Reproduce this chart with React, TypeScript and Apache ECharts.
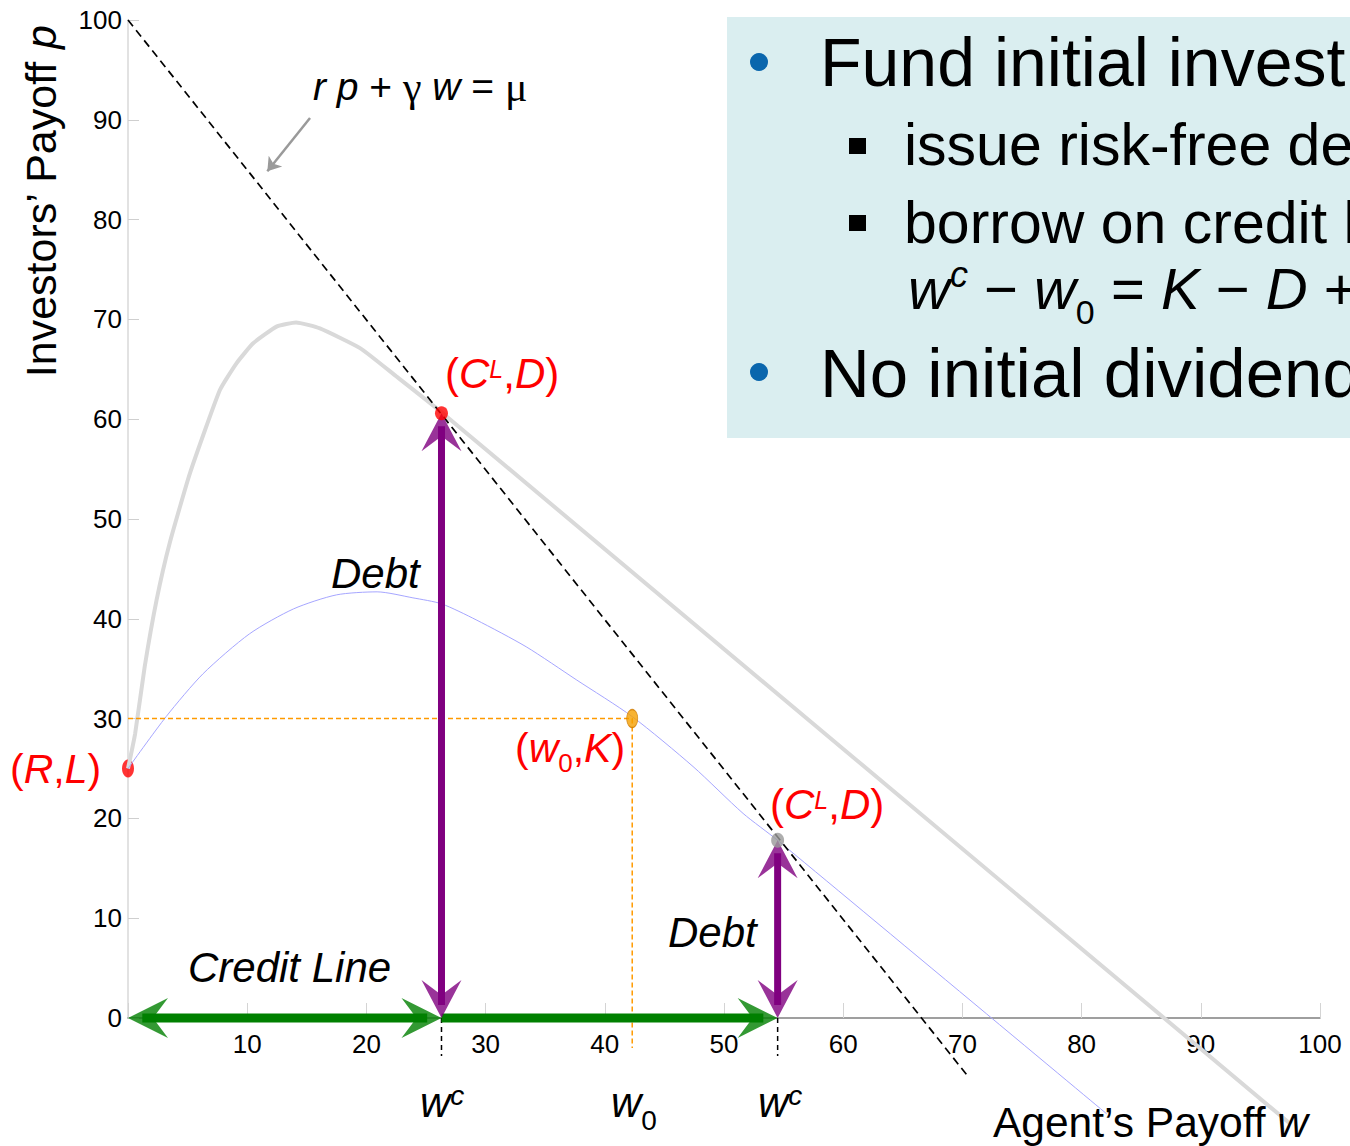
import React, { useEffect, useRef } from "react";
import * as echarts from "echarts";

const FONT = "'Liberation Sans', Arial, Helvetica, sans-serif";
const SERIF = "'Liberation Serif', 'Times New Roman', serif";

// ---------- axes ----------
const X_MIN = 0;
const X_MAX = 100;
const Y_MIN = 0;
const Y_MAX = 100;
const TICK_STEP = 10;

// ---------- key points ----------
const R = 0;
const L = 25;
const wc1 = 26.3;
const D1 = 60.6;
const wc2 = 54.5;
const D2 = 17.8;
const w0 = 42.3;
const K = 30;

// ---------- iso line r p + γ w = μ ----------
const isoW = [0, 70.5];
const isoP = [100, -5.9];

// ---------- gray frontier ----------
const grayW = [0, 0.6, 1.4, 2.4, 3.5, 5.2, 7.7, 9.1, 10.5, 12.5, 14.1, 16.1, 19.5, 22.5, 26.3, 97.5];
const grayP = [25, 28.5, 35.2, 41.9, 47.6, 54.6, 62.9, 65.6, 67.6, 69.3, 69.7, 69.1, 67.1, 64.3, 60.7, -10.6];

// ---------- blue debt curve ----------
const blueW = [0, 3.2, 6.3, 10.2, 13.9, 17.5, 20.9, 23.9, 26.3, 29.2, 33.4, 37.6, 42.3, 47.4, 51.6, 54.5, 82.1];
const blueP = [25, 30.2, 34.5, 38.5, 41.0, 42.4, 42.7, 42.1, 41.5, 39.9, 37.2, 33.9, 30.2, 25.2, 20.5, 17.8, -9.6];

// ---------- guides ----------
const guideBottom = -3;
const wcTickBottom = -3.8;
const pointerFrom = [15.27, 90.18];
const pointerTo = [11.69, 84.84];

// ---------- text box lines (as visible in the slide crop) ----------
const boxLine1 = "Fund initial invest";
const boxLine2 = "issue risk-free de";
const boxLine3 = "borrow on credit l";
const boxLine5 = "No initial dividend";

const GREEN = "#008000";
const PURPLE = "#800080";
const RED = "#ff0000";
const ORANGE = "#ff9a00";

const zip = (a: number[], b: number[]) => a.map((v, i) => [v, b[i]]);

// arrows
const arrows = [
  { from: [0, 0], to: [wc1, 0], startHead: true, endHead: true, color: GREEN, width: 9 },
  { from: [wc1, 0], to: [wc2, 0], startHead: false, endHead: true, color: GREEN, width: 9 },
  { from: [wc1, 0], to: [wc1, D1], startHead: true, endHead: true, color: PURPLE, width: 7 },
  { from: [wc2, 0], to: [wc2, D2], startHead: true, endHead: true, color: PURPLE, width: 7 },
];
const INSET_X = 1.2;
const INSET_Y = 1.3;

const HEAD: Record<string, { symbol: string; size: number[]; offset: number[] }> = {
  up: { symbol: "path://M20,0L40,38L20,23L0,38Z", size: [40, 38], offset: [0, 19] },
  down: { symbol: "path://M0,0L20,15L40,0L20,38Z", size: [40, 38], offset: [0, -19] },
  right: { symbol: "path://M0,0L40,20L0,40L15,20Z", size: [40, 40], offset: [-20, 0] },
  left: { symbol: "path://M40,0L0,20L40,40L25,20Z", size: [40, 40], offset: [20, 0] },
};

function dirName(dx: number, dy: number) {
  if (dx > 0) return "right";
  if (dx < 0) return "left";
  if (dy > 0) return "up";
  return "down";
}

function buildArrowSeries() {
  const shafts: any[] = [];
  const heads: any[] = [];
  arrows.forEach((a) => {
    const dx = Math.sign(a.to[0] - a.from[0]);
    const dy = Math.sign(a.to[1] - a.from[1]);
    const ix = dx * INSET_X;
    const iy = dy * INSET_Y;
    const s = a.startHead ? [a.from[0] + ix, a.from[1] + iy] : a.from;
    const e = a.endHead ? [a.to[0] - ix, a.to[1] - iy] : a.to;
    shafts.push({
      type: "line",
      data: [s, e],
      symbol: "none",
      clip: false,
      z: 5,
      lineStyle: { color: a.color, width: a.width, cap: "butt" },
      silent: true,
    });
    if (a.endHead) {
      const h = HEAD[dirName(dx, dy)];
      heads.push({ value: a.to, symbol: h.symbol, symbolSize: h.size, symbolOffset: h.offset, itemStyle: { color: a.color } });
    }
    if (a.startHead) {
      const h = HEAD[dirName(-dx, -dy)];
      heads.push({ value: a.from, symbol: h.symbol, symbolSize: h.size, symbolOffset: h.offset, itemStyle: { color: a.color } });
    }
  });
  return { shafts, heads };
}

function txt(x: number, y: number, style: any, extra: any = {}) {
  return {
    type: "text",
    x,
    y,
    z: 100,
    silent: true,
    style: { fontFamily: FONT, fill: "#000", align: "left", verticalAlign: "middle", ...style },
    ...extra,
  };
}

function itl(size: number, color: string, lh?: number) {
  return { fontSize: size, fontFamily: FONT, fontStyle: "italic", fill: color, lineHeight: lh };
}

function clLabel(x: number, y: number) {
  return txt(x, y, {
    text: "({i|C}{sup|L},{i|D})",
    fontSize: 42,
    fill: RED,
    lineHeight: 34,
    rich: {
      i: itl(42, RED, 34),
      sup: { fontSize: 25, fontFamily: FONT, fontStyle: "italic", fill: RED, verticalAlign: "top", lineHeight: 25 },
    },
  });
}

function wcLabel(x: number, y: number) {
  return txt(x, y, {
    text: "{i|w}{sup|c}",
    fontSize: 42,
    lineHeight: 42,
    rich: {
      i: itl(42, "#000", 42),
      sup: { fontSize: 28, fontFamily: FONT, fontStyle: "italic", fill: "#000", verticalAlign: "top", lineHeight: 28 },
    },
  });
}

export default function App() {
  const ref = useRef<HTMLDivElement>(null);

  useEffect(() => {
    const chart = echarts.init(ref.current!, null, { renderer: "svg" });
    const { shafts, heads } = buildArrowSeries();

    const graphic: any[] = [
      // text box
      { type: "rect", z: 50, silent: true, shape: { x: 727, y: 17, width: 640, height: 421 }, style: { fill: "#daeef0" } },
      { type: "circle", z: 60, silent: true, shape: { cx: 759, cy: 62, r: 9 }, style: { fill: "#0a66ad" } },
      { type: "circle", z: 60, silent: true, shape: { cx: 759, cy: 372, r: 9 }, style: { fill: "#0a66ad" } },
      { type: "rect", z: 60, silent: true, shape: { x: 849, y: 138, width: 17, height: 16 }, style: { fill: "#000" } },
      { type: "rect", z: 60, silent: true, shape: { x: 849, y: 215, width: 17, height: 16 }, style: { fill: "#000" } },
      txt(820, 62, { text: boxLine1, fontSize: 68 }),
      txt(904, 145, { text: boxLine2, fontSize: 59 }),
      txt(904, 222.5, { text: boxLine3, fontSize: 59 }),
      txt(908, 288.5, {
        text: "{i|w}{sup|c} \u2212 {i|w}{sub|0} = {i|K} \u2212 {i|D} +",
        fontSize: 58,
        lineHeight: 64,
        rich: {
          i: itl(58, "#000", 64),
          sup: { fontSize: 36, fontFamily: FONT, fontStyle: "italic", fill: "#000", verticalAlign: "top", lineHeight: 36 },
          sub: { fontSize: 34, fontFamily: FONT, fill: "#000", verticalAlign: "bottom", lineHeight: 34, padding: [0, 0, -8, 0] },
        },
      }),
      txt(820, 373, { text: boxLine5, fontSize: 69 }),

      // equation annotation
      txt(313, 86.5, {
        text: "{i|r p} + {g|\u03b3} {i|w} = {g|\u03bc}",
        fontSize: 39,
        lineHeight: 39,
        rich: {
          i: itl(39, "#000", 39),
          g: { fontSize: 42, fontFamily: SERIF, fill: "#000", lineHeight: 39 },
        },
      }),

      // point labels
      clLabel(445, 373),
      clLabel(770, 804),
      txt(10, 769, {
        text: "({i|R},{i|L})",
        fontSize: 41,
        fill: RED,
        lineHeight: 41,
        rich: { i: itl(41, RED, 41) },
      }),
      txt(515, 748, {
        text: "({i|w}{sub|0},{i|K})",
        fontSize: 41,
        fill: RED,
        lineHeight: 56,
        rich: {
          i: itl(41, RED, 56),
          sub: { fontSize: 26, fontFamily: FONT, fill: RED, verticalAlign: "bottom", lineHeight: 26 },
        },
      }),

      // region labels
      txt(331, 573.5, { text: "Debt", fontSize: 42, fontStyle: "italic" }),
      txt(668, 932.5, { text: "Debt", fontSize: 42, fontStyle: "italic" }),
      txt(188, 967.5, { text: "Credit Line", fontSize: 42, fontStyle: "italic" }),

      // axis-position labels
      wcLabel(420, 1102),
      wcLabel(758, 1102),
      txt(611, 1102, {
        text: "{i|w}{sub|0}",
        fontSize: 42,
        lineHeight: 64,
        rich: {
          i: itl(42, "#000", 64),
          sub: { fontSize: 28, fontFamily: FONT, fill: "#000", verticalAlign: "bottom", lineHeight: 28 },
        },
      }),

      // axis titles
      txt(993, 1122.5, {
        text: "Agent\u2019s Payoff {i|w}",
        fontSize: 42.5,
        lineHeight: 43,
        rich: { i: itl(42.5, "#000", 43) },
      }),
      txt(
        41,
        201.5,
        {
          text: "Investors\u2019 Payoff {i|p}",
          fontSize: 43,
          lineHeight: 43,
          align: "center",
          rich: { i: itl(43, "#000", 43) },
        },
        { rotation: Math.PI / 2 }
      ),
    ];

    const option: any = {
      animation: false,
      backgroundColor: "#ffffff",
      grid: { left: 128, right: 30, top: 20, bottom: 128, containLabel: false, outerBoundsMode: "none" },
      xAxis: {
        type: "value",
        min: X_MIN,
        max: X_MAX,
        interval: TICK_STEP,
        axisLine: { show: true, onZero: true, lineStyle: { color: "#7f7f7f", width: 1.5 } },
        axisTick: { show: true, inside: true, length: 15, lineStyle: { color: "#d4d4d4", width: 1 } },
        axisLabel: {
          show: true,
          margin: 13,
          fontSize: 26,
          fontFamily: FONT,
          color: "#000",
          formatter: (v: number) => (v === 0 ? "" : String(v)),
        },
        splitLine: { show: false },
      },
      yAxis: {
        type: "value",
        min: Y_MIN,
        max: Y_MAX,
        interval: TICK_STEP,
        axisLine: { show: true, lineStyle: { color: "#d9d9d9", width: 1.5 } },
        axisTick: { show: true, inside: true, length: 11, lineStyle: { color: "#cfcfcf", width: 1 } },
        axisLabel: { show: true, margin: 6, fontSize: 26, fontFamily: FONT, color: "#000" },
        splitLine: { show: false },
      },
      graphic,
      series: [
        {
          type: "scatter",
          z: 1,
          data: [[R, L]],
          symbol: "circle",
          symbolSize: [12, 18],
          itemStyle: { color: RED },
          silent: true,
        },
        {
          type: "line",
          z: 2,
          data: zip(grayW, grayP),
          symbol: "none",
          smooth: 0.15,
          clip: false,
          lineStyle: { color: "#d9d9d9", width: 4 },
          silent: true,
        },
        {
          type: "line",
          z: 2,
          data: zip(blueW, blueP),
          symbol: "none",
          smooth: 0.25,
          clip: false,
          lineStyle: { color: "#a6a6ff", width: 1 },
          silent: true,
        },
        {
          type: "line",
          z: 3,
          data: zip(isoW, isoP),
          symbol: "none",
          clip: false,
          lineStyle: { color: "#000", width: 1.7, type: [8, 5] },
          silent: true,
        },
        {
          type: "line",
          z: 3,
          data: [
            [0, K],
            [w0, K],
            [w0, guideBottom],
          ],
          symbol: "none",
          clip: false,
          lineStyle: { color: ORANGE, width: 1.5, type: [5, 3] },
          silent: true,
        },
        {
          type: "line",
          z: 3,
          data: [
            [wc1, 0],
            [wc1, wcTickBottom],
          ],
          symbol: "none",
          clip: false,
          lineStyle: { color: "#000", width: 1.5, type: [5, 4] },
          silent: true,
        },
        {
          type: "line",
          z: 3,
          data: [
            [wc2, 0],
            [wc2, wcTickBottom],
          ],
          symbol: "none",
          clip: false,
          lineStyle: { color: "#000", width: 1.5, type: [5, 4] },
          silent: true,
        },
        {
          type: "lines",
          coordinateSystem: "cartesian2d",
          z: 3,
          data: [{ coords: [pointerFrom, pointerTo] }],
          symbol: ["none", "arrow"],
          symbolSize: 13,
          lineStyle: { color: "#9a9a9a", width: 2.5, opacity: 1 },
          itemStyle: { color: "#9a9a9a" },
          silent: true,
        },
        ...shafts,
        {
          type: "scatter",
          z: 6,
          data: heads,
          clip: false,
          silent: true,
        },
        {
          type: "scatter",
          z: 7,
          data: [
            { value: [wc1, D1], symbolSize: [13, 14], itemStyle: { color: RED } },
            { value: [w0, K], symbolSize: [11, 18], itemStyle: { color: "#f5a000", borderColor: "#d07a00", borderWidth: 1 } },
            { value: [wc2, D2], symbolSize: [13, 15], itemStyle: { color: "#9a9a9a" } },
          ],
          symbol: "circle",
          clip: false,
          silent: true,
        },
      ],
    };

    chart.setOption(option);
    return () => chart.dispose();
  }, []);

  return (
    <div
      ref={ref}
      style={{ position: "absolute", left: 0, top: 0, width: 1350, height: 1146, background: "#fff" }}
    />
  );
}
